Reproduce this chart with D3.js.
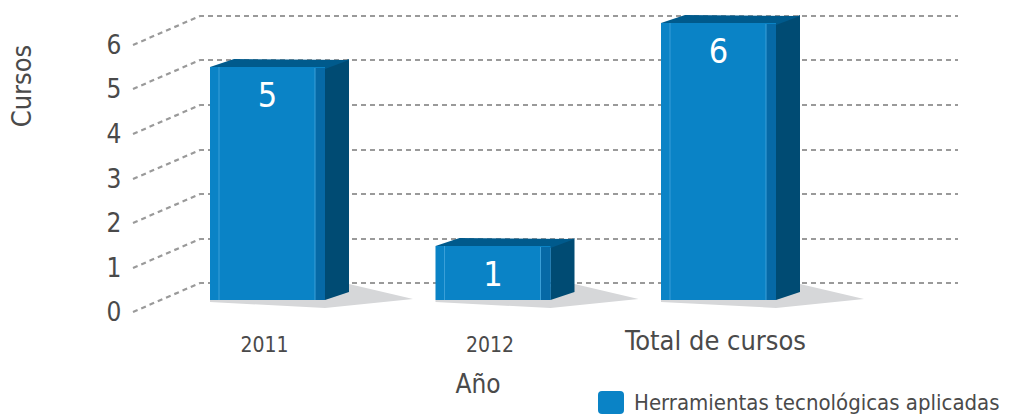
<!DOCTYPE html>
<html>
<head>
<meta charset="utf-8">
<script src="https://cdn.jsdelivr.net/npm/d3@7"></script>
<style>
  body { margin: 0; background: #fff; }
  svg text { font-family: "DejaVu Sans Condensed", "DejaVu Sans", sans-serif; fill: #4a4a4a; }
</style>
</head>
<body>
<div id="chart"></div>
<script>
// Data
var categories = ["2011", "2012", "Total de cursos"];
var values = [5, 1, 6];
var yTicks = [0, 1, 2, 3, 4, 5, 6];
var seriesName = "Herramientas tecnológicas aplicadas";

var W = 1025, H = 418;
var svg = d3.select("#chart").append("svg").attr("width", W).attr("height", H);

// Back plane scale (gridlines on the wall)
var yBack = d3.scaleLinear().domain([0, 6]).range([283, 16]);
var x = d3.scaleBand().domain(categories).range([210, 776]).paddingInner(0.49).paddingOuter(0);

var FRONT_X = 133, BACK_X = 200, DROP = 29;   // perspective of the tick lines
var DX = 24, DY = -8;                          // bar depth
var FLOOR = 300;

// Grid: diagonal from tick label to wall, then dashed across
var grid = svg.append("g");
yTicks.forEach(function (t) {
  var yb = Math.round(yBack(t));
  grid.append("path")
    .attr("d", "M" + FRONT_X + "," + (yb + DROP) + "L" + BACK_X + "," + yb + "L958," + yb)
    .attr("fill", "none").attr("stroke", "#9a9a9a").attr("stroke-width", 2.2)
    .attr("stroke-dasharray", "5,4");
  grid.append("text")
    .attr("x", 114).attr("y", yb + DROP + 9)
    .attr("text-anchor", "middle").attr("font-size", 26)
    .text(t);
});

// Bars
var bars = svg.selectAll(".bar").data(categories).enter().append("g").attr("class", "bar");
bars.each(function (c, i) {
  var g = d3.select(this);
  var xl = x(c), xr = x(c) + x.bandwidth();
  var backTop = Math.round(yBack(values[i]));
  var ft = backTop + 7;
  var fb = FLOOR;
  // floor shadow
  g.append("path")
    .attr("d", "M" + xl + "," + fb + "L" + xl + "," + (fb + 2) + "L" + xr + "," + (fb + 8) +
      "L" + (xr + DX + 64) + "," + (fb - 1) + "L" + (xr + DX) + "," + (fb + DY - 8) + "Z")
    .attr("fill", "#d6d7d9");
  // side
  g.append("path")
    .attr("d", "M" + xr + "," + (ft + 1) + "L" + (xr + DX) + "," + (ft + DY) + "L" + (xr + DX) + "," + (fb + DY) +
      "L" + xr + "," + fb + "Z")
    .attr("fill", "#004b73");
  // top
  g.append("path")
    .attr("d", "M" + xl + "," + ft + "L" + (xl + DX) + "," + (ft + DY) + "L" + (xr + DX) + "," + (ft + DY + 1) +
      "L" + xr + "," + (ft + 2) + "Z")
    .attr("fill", "#005a8c");
  // front
  g.append("rect").attr("x", xl).attr("y", ft).attr("width", xr - xl).attr("height", fb - ft)
    .attr("fill", "#0a83c6");
  g.append("rect").attr("x", xr - 10).attr("y", ft + 1).attr("width", 10).attr("height", fb - ft - 1)
    .attr("fill", "#0669a6");
  g.append("line").attr("x1", xl + 9).attr("x2", xl + 9).attr("y1", ft).attr("y2", fb)
    .attr("stroke", "#3a9fd8").attr("stroke-width", 1);
  g.append("line").attr("x1", xr - 10).attr("x2", xr - 10).attr("y1", ft + 1).attr("y2", fb)
    .attr("stroke", "#3a9fd8").attr("stroke-width", 1);
  // value
  g.append("text")
    .attr("x", (xl + xr) / 2).attr("y", ft + 40)
    .attr("text-anchor", "middle").attr("font-size", 34)
    .style("fill", "#fff")
    .text(values[i]);
});

// Category labels
svg.selectAll(".cat").data(categories).enter().append("text")
  .attr("x", function (c) { return x(c) + x.bandwidth() / 2 - 3; })
  .attr("y", function (c, i) { return i === 2 ? 350 : 352; })
  .attr("text-anchor", "middle")
  .attr("font-size", function (c, i) { return i === 2 ? 27 : 21; })
  .text(function (c) { return c; });

// Axis titles
svg.append("text").attr("x", 478).attr("y", 393).attr("text-anchor", "middle")
  .attr("font-size", 26).text("Año");
svg.append("text").attr("transform", "translate(31,86) rotate(-90)").attr("text-anchor", "middle")
  .attr("font-size", 27).text("Cursos");

// Legend
svg.append("rect").attr("x", 598).attr("y", 391).attr("width", 26).attr("height", 23).attr("rx", 4)
  .attr("fill", "#0a83c6");
svg.append("text").attr("x", 634).attr("y", 410).attr("font-size", 22)
  .text(seriesName);
</script>
</body>
</html>
